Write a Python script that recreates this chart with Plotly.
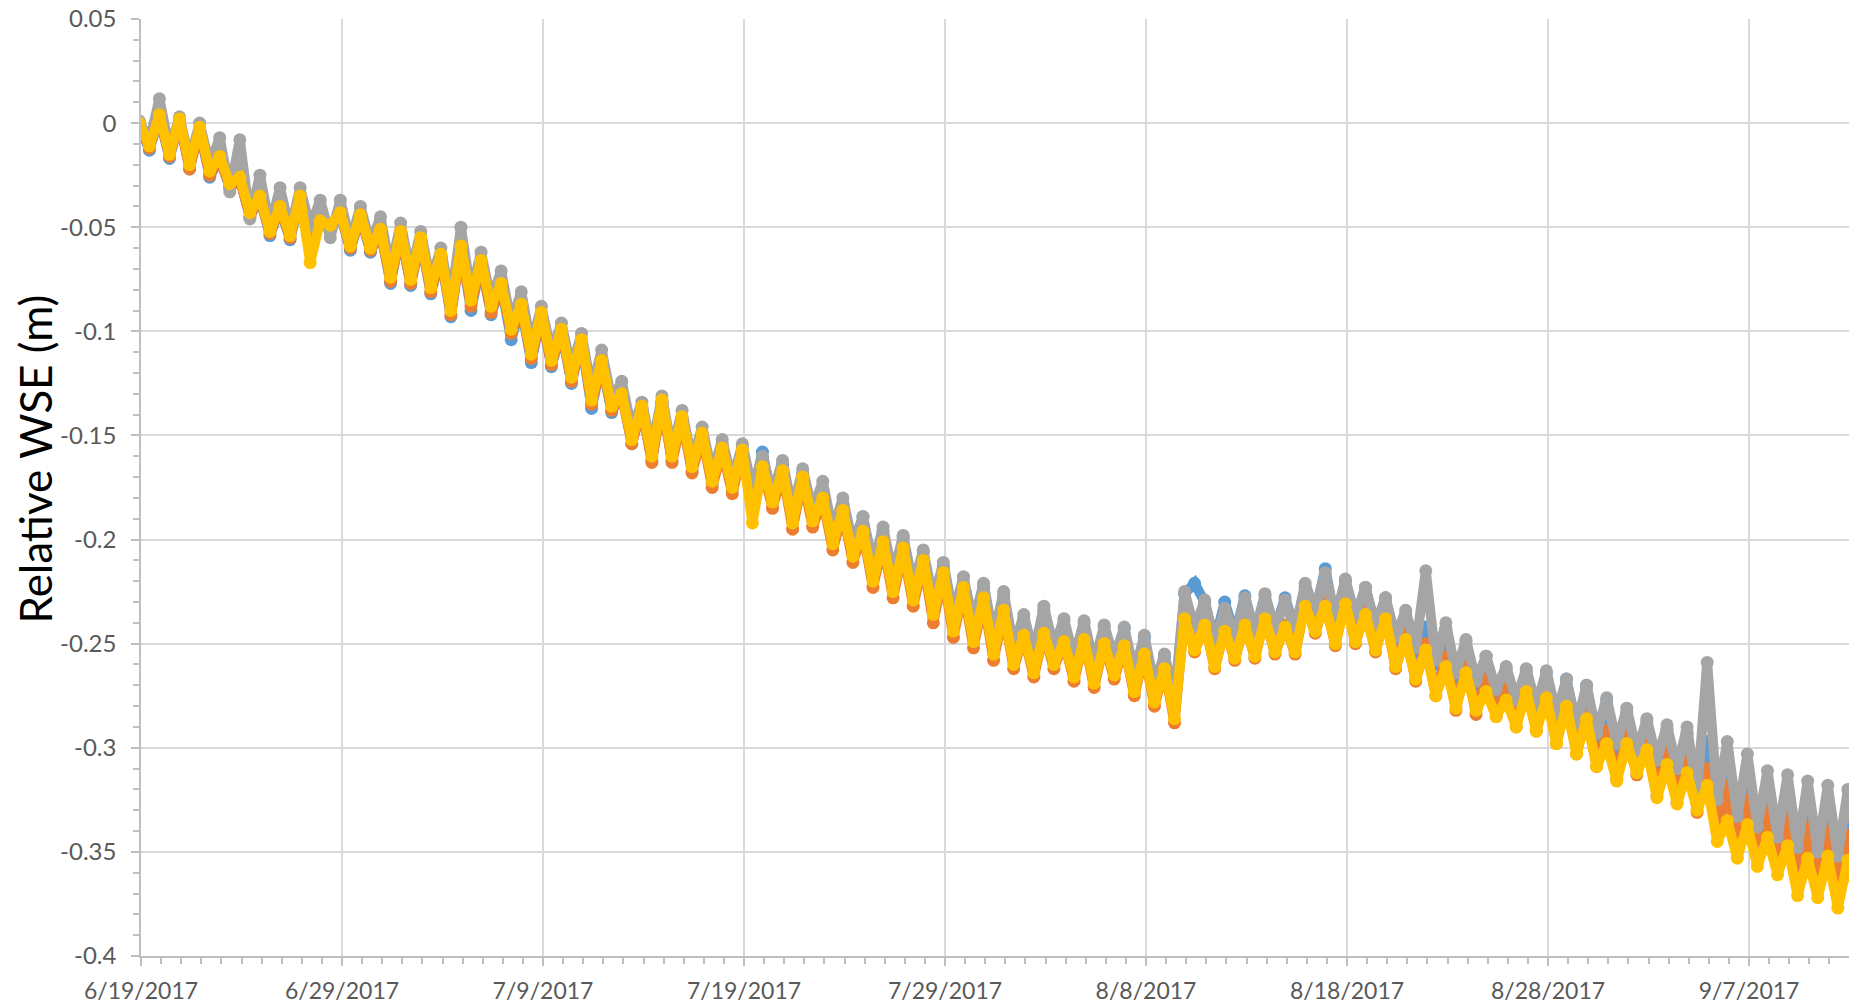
import pandas as pd
import plotly.graph_objects as go

# 12-hourly samples starting 2017-06-18 22:00 (trough ~10:00, peak ~22:00 each day)
start_time = "2017-06-18 22:00"

series_names = ["Series1", "Series2", "Series3", "Series4"]
series_colors = ["#5B9BD5", "#ED7D31", "#A5A5A5", "#FFC000"]

blue = [
    -0.001,
    -0.013, 0.003, -0.017, 0.001, -0.022, -0.003, -0.026, -0.017, -0.031, -0.027,
    -0.045, -0.036, -0.054, -0.041, -0.056, -0.036, -0.054, -0.048, -0.051, -0.044,
    -0.061, -0.045, -0.062, -0.052, -0.077, -0.053, -0.078, -0.056, -0.082, -0.064,
    -0.093, -0.060, -0.090, -0.067, -0.092, -0.078, -0.104, -0.088, -0.115, -0.092,
    -0.117, -0.100, -0.125, -0.105, -0.137, -0.115, -0.139, -0.129, -0.154, -0.137,
    -0.162, -0.134, -0.162, -0.142, -0.167, -0.149, -0.173, -0.154, -0.176, -0.155,
    -0.179, -0.158, -0.182, -0.164, -0.190, -0.168, -0.189, -0.176, -0.199, -0.183,
    -0.204, -0.189, -0.214, -0.196, -0.219, -0.199, -0.224, -0.206, -0.231, -0.213,
    -0.238, -0.218, -0.243, -0.223, -0.249, -0.227, -0.254, -0.238, -0.257, -0.234,
    -0.254, -0.239, -0.259, -0.240, -0.262, -0.242, -0.259, -0.243, -0.266, -0.247,
    -0.272, -0.256, -0.279, -0.226, -0.221, -0.230, -0.249, -0.230, -0.246, -0.227,
    -0.245, -0.227, -0.243, -0.228, -0.243, -0.223, -0.235, -0.214, -0.239, -0.220,
    -0.238, -0.223, -0.242, -0.228, -0.248, -0.236, -0.254, -0.242, -0.260, -0.243,
    -0.266, -0.249, -0.270, -0.256, -0.274, -0.262, -0.279, -0.263, -0.282, -0.264,
    -0.287, -0.267, -0.292, -0.270, -0.297, -0.277, -0.302, -0.283, -0.306, -0.287,
    -0.311, -0.291, -0.315, -0.293, -0.321, -0.297, -0.328, -0.303, -0.333, -0.310,
    -0.338, -0.318, -0.343, -0.323, -0.348, -0.326, -0.349, -0.330, -0.352, -0.334,
    -0.350,
]

orange = [
    -0.001,
    -0.012, 0.003, -0.016, 0.001, -0.022, -0.003, -0.025, -0.017, -0.031, -0.027,
    -0.045, -0.036, -0.053, -0.041, -0.055, -0.036, -0.053, -0.048, -0.050, -0.044,
    -0.060, -0.045, -0.061, -0.052, -0.076, -0.053, -0.077, -0.056, -0.081, -0.064,
    -0.092, -0.060, -0.088, -0.067, -0.091, -0.078, -0.101, -0.088, -0.113, -0.092,
    -0.116, -0.100, -0.124, -0.105, -0.135, -0.115, -0.138, -0.131, -0.154, -0.137,
    -0.163, -0.134, -0.163, -0.142, -0.168, -0.150, -0.175, -0.157, -0.178, -0.158,
    -0.181, -0.166, -0.185, -0.168, -0.195, -0.171, -0.194, -0.181, -0.205, -0.187,
    -0.211, -0.197, -0.223, -0.202, -0.228, -0.205, -0.232, -0.211, -0.240, -0.217,
    -0.247, -0.224, -0.252, -0.229, -0.258, -0.235, -0.262, -0.246, -0.266, -0.245,
    -0.262, -0.249, -0.268, -0.248, -0.271, -0.250, -0.267, -0.251, -0.275, -0.255,
    -0.280, -0.262, -0.288, -0.236, -0.254, -0.240, -0.262, -0.243, -0.258, -0.240,
    -0.257, -0.237, -0.255, -0.241, -0.255, -0.231, -0.245, -0.230, -0.251, -0.229,
    -0.250, -0.234, -0.254, -0.236, -0.262, -0.245, -0.268, -0.250, -0.275, -0.256,
    -0.282, -0.259, -0.284, -0.266, -0.285, -0.270, -0.290, -0.270, -0.292, -0.272,
    -0.298, -0.276, -0.303, -0.282, -0.309, -0.292, -0.315, -0.294, -0.313, -0.297,
    -0.323, -0.302, -0.326, -0.304, -0.331, -0.310, -0.341, -0.318, -0.348, -0.325,
    -0.352, -0.330, -0.356, -0.334, -0.362, -0.338, -0.364, -0.340, -0.366, -0.342,
    -0.362,
]

gray = [
    0.001,
    -0.009, 0.0117, -0.013, 0.003, -0.018, 0.000, -0.020, -0.007, -0.033, -0.008,
    -0.046, -0.025, -0.050, -0.031, -0.052, -0.031, -0.050, -0.037, -0.055, -0.037,
    -0.057, -0.040, -0.058, -0.045, -0.071, -0.048, -0.072, -0.052, -0.076, -0.060,
    -0.086, -0.050, -0.082, -0.062, -0.085, -0.071, -0.096, -0.081, -0.107, -0.088,
    -0.110, -0.096, -0.118, -0.101, -0.128, -0.109, -0.133, -0.124, -0.147, -0.134,
    -0.156, -0.131, -0.157, -0.138, -0.162, -0.146, -0.168, -0.152, -0.172, -0.154,
    -0.176, -0.160, -0.178, -0.162, -0.186, -0.166, -0.186, -0.172, -0.196, -0.180,
    -0.202, -0.189, -0.212, -0.194, -0.217, -0.198, -0.222, -0.205, -0.229, -0.211,
    -0.236, -0.218, -0.240, -0.221, -0.247, -0.225, -0.252, -0.236, -0.255, -0.232,
    -0.252, -0.238, -0.257, -0.239, -0.260, -0.241, -0.257, -0.242, -0.264, -0.246,
    -0.270, -0.255, -0.276, -0.225, -0.243, -0.229, -0.250, -0.233, -0.246, -0.228,
    -0.245, -0.226, -0.243, -0.229, -0.244, -0.221, -0.234, -0.216, -0.238, -0.219,
    -0.237, -0.223, -0.241, -0.228, -0.247, -0.234, -0.252, -0.215, -0.258, -0.240,
    -0.264, -0.248, -0.268, -0.256, -0.272, -0.261, -0.277, -0.262, -0.280, -0.263,
    -0.284, -0.267, -0.289, -0.270, -0.293, -0.276, -0.298, -0.281, -0.302, -0.286,
    -0.306, -0.289, -0.310, -0.290, -0.322, -0.259, -0.325, -0.297, -0.333, -0.303,
    -0.338, -0.311, -0.343, -0.313, -0.348, -0.316, -0.350, -0.318, -0.352, -0.320,
    -0.348,
]

yellow = [
    0.000,
    -0.011, 0.004, -0.015, 0.002, -0.020, -0.002, -0.023, -0.016, -0.029, -0.026,
    -0.043, -0.035, -0.052, -0.040, -0.054, -0.035, -0.067, -0.047, -0.049, -0.043,
    -0.059, -0.044, -0.060, -0.051, -0.074, -0.052, -0.075, -0.055, -0.079, -0.063,
    -0.090, -0.059, -0.085, -0.066, -0.088, -0.077, -0.099, -0.087, -0.111, -0.091,
    -0.114, -0.099, -0.122, -0.104, -0.133, -0.114, -0.136, -0.130, -0.152, -0.136,
    -0.160, -0.133, -0.160, -0.141, -0.165, -0.149, -0.172, -0.156, -0.175, -0.157,
    -0.192, -0.165, -0.182, -0.167, -0.192, -0.170, -0.191, -0.180, -0.202, -0.186,
    -0.208, -0.196, -0.220, -0.201, -0.225, -0.204, -0.229, -0.210, -0.236, -0.216,
    -0.244, -0.223, -0.249, -0.228, -0.255, -0.234, -0.260, -0.246, -0.264, -0.245,
    -0.260, -0.249, -0.266, -0.248, -0.269, -0.250, -0.265, -0.251, -0.273, -0.255,
    -0.278, -0.262, -0.286, -0.238, -0.253, -0.241, -0.261, -0.244, -0.257, -0.241,
    -0.256, -0.238, -0.254, -0.242, -0.254, -0.232, -0.244, -0.232, -0.250, -0.231,
    -0.249, -0.236, -0.253, -0.238, -0.261, -0.248, -0.267, -0.253, -0.275, -0.261,
    -0.281, -0.264, -0.282, -0.273, -0.285, -0.277, -0.290, -0.273, -0.292, -0.276,
    -0.298, -0.280, -0.303, -0.286, -0.309, -0.298, -0.316, -0.298, -0.312, -0.301,
    -0.324, -0.308, -0.327, -0.312, -0.330, -0.318, -0.345, -0.335, -0.353, -0.337,
    -0.357, -0.343, -0.361, -0.347, -0.371, -0.353, -0.372, -0.352, -0.377, -0.354,
    -0.372,
]

x_tick_dates = ["2017-06-19", "2017-06-29", "2017-07-09", "2017-07-19", "2017-07-29",
                "2017-08-08", "2017-08-18", "2017-08-28", "2017-09-07"]
x_tick_labels = ["6/19/2017", "6/29/2017", "7/9/2017", "7/19/2017", "7/29/2017",
                 "8/8/2017", "8/18/2017", "8/28/2017", "9/7/2017"]
y_tick_vals = [0.05, 0, -0.05, -0.1, -0.15, -0.2, -0.25, -0.3, -0.35, -0.4]
y_tick_labels = ["0.05", "0", "-0.05", "-0.1", "-0.15", "-0.2", "-0.25", "-0.3", "-0.35", "-0.4"]

all_series = [blue, orange, gray, yellow]
times = pd.date_range(start_time, periods=len(yellow), freq="12h")

fig = go.Figure()
for name, color, vals in zip(series_names, series_colors, all_series):
    fig.add_trace(go.Scatter(
        x=times, y=vals, name=name, mode="lines+markers",
        line=dict(color=color, width=10),
        marker=dict(color=color, size=13),
        hoverinfo="skip",
    ))

# visible window (the chart is cut at the right edge)
x_start = "2017-06-19 00:00"
x_end = "2017-09-11 23:20"

font_family = "Lato, 'Open Sans', sans-serif"
fig.update_layout(
    width=1849, height=1006,
    margin=dict(l=141, r=0, t=19, b=50, autoexpand=False),
    paper_bgcolor="white", plot_bgcolor="white",
    showlegend=False,
    font=dict(family=font_family, color="#595959", size=23),
)
fig.update_xaxes(
    type="date",
    autorange=False,
    range=[x_start, x_end],
    automargin=False,
    tickvals=x_tick_dates, ticktext=x_tick_labels,
    showgrid=True, gridcolor="#D9D9D9", gridwidth=1.5,
    showline=True, linecolor="#BFBFBF", linewidth=1.5,
    ticks="outside", ticklen=8, tickcolor="#BFBFBF", tickwidth=1.5,
    ticklabelstandoff=6,
    minor=dict(dtick=86400000, tick0="2017-06-19", ticks="outside", ticklen=6,
               tickcolor="#BFBFBF", tickwidth=1.5, showgrid=False),
    zeroline=False,
    tickfont=dict(size=23, color="#595959"),
)
fig.update_yaxes(
    autorange=False,
    range=[-0.4, 0.05],
    automargin=False,
    tickvals=y_tick_vals, ticktext=y_tick_labels,
    showgrid=True, gridcolor="#D9D9D9", gridwidth=1.5,
    showline=True, linecolor="#BFBFBF", linewidth=1.5,
    ticks="outside", ticklen=8, tickcolor="#BFBFBF", tickwidth=1.5,
    ticklabelstandoff=10,
    minor=dict(dtick=0.01, tick0=0, ticks="outside", ticklen=6,
               tickcolor="#BFBFBF", tickwidth=1.5, showgrid=False),
    zeroline=False,
    tickfont=dict(size=24, color="#595959"),
)
fig.add_annotation(
    text="Relative WSE (m)", textangle=-90,
    xref="paper", yref="paper", x=-0.062, y=0.53,
    xanchor="center", yanchor="middle", showarrow=False,
    font=dict(size=44, color="black", family=font_family),
)

fig.write_html(
    "out.html",
    config={"displayModeBar": False, "responsive": False},
    post_script="document.body.style.margin='0';document.body.style.overflow='hidden';",
)
